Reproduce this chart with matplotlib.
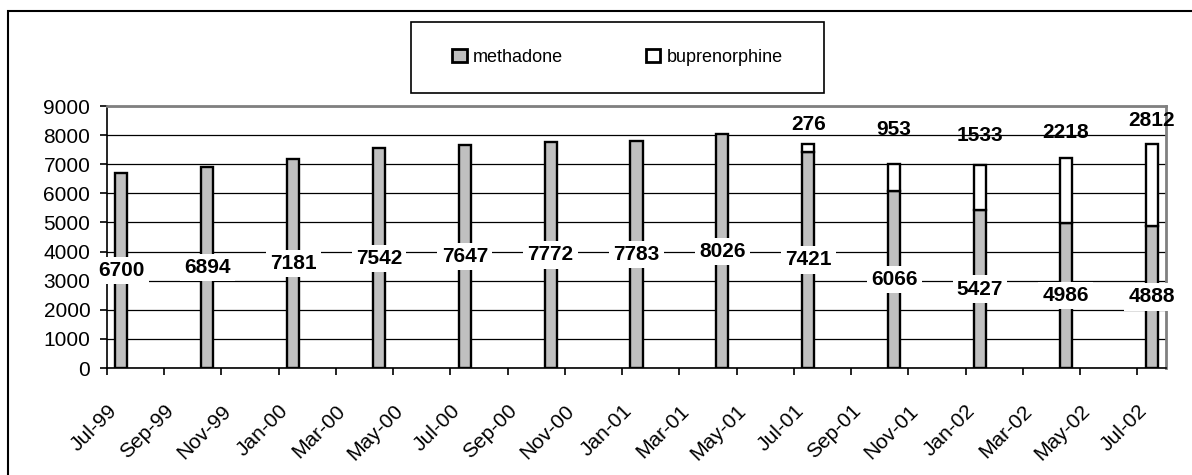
import matplotlib
matplotlib.use("Agg")
import matplotlib.pyplot as plt
from matplotlib.patches import Rectangle, Patch
import pandas as pd

# ---- data ----
quarters = ["Jul-99", "Oct-99", "Jan-00", "Apr-00", "Jul-00", "Oct-00", "Jan-01",
            "Apr-01", "Jul-01", "Oct-01", "Jan-02", "Apr-02", "Jul-02"]
methadone = [6700, 6894, 7181, 7542, 7647, 7772, 7783, 8026, 7421, 6066, 5427, 4986, 4888]
buprenorphine = [0, 0, 0, 0, 0, 0, 0, 0, 276, 953, 1533, 2218, 2812]
series_names = ["methadone", "buprenorphine"]
# label heights for buprenorphine labels (as placed in the original)
bup_label_y = [None] * 8 + [8380, 8200, 7990, 8080, 8510]

plt.rcParams["font.family"] = ["Liberation Sans", "DejaVu Sans"]

W, H = 1192, 475
fig = plt.figure(figsize=(W / 100, H / 100), dpi=100)
fig.patch.set_facecolor("white")

# axes geometry (pixels)
L, R, T, B = 107, 1166, 106, 368
ax = fig.add_axes([L / W, 1 - B / H, (R - L) / W, (B - T) / H])

start = pd.Timestamp("1999-07-01")
def month_index(s):
    d = pd.to_datetime(s, format="%b-%y")
    return (d.year - start.year) * 12 + d.month - start.month

xpos = [month_index(q) + 0.5 for q in quarters]
width = 0.42
gray = "#C0C0C0"

ax.bar(xpos, methadone, width=width, color=gray, edgecolor="black", linewidth=1.7, zorder=3)
bx = [x for x, b in zip(xpos, buprenorphine) if b > 0]
bb = [m for m, b in zip(methadone, buprenorphine) if b > 0]
bh = [b for b in buprenorphine if b > 0]
ax.bar(bx, bh, bottom=bb, width=width, color="white", edgecolor="black", linewidth=1.7, zorder=3)

# labels
for x, m in zip(xpos, methadone):
    ax.text(x, m / 2, f"{m}", ha="center", va="center", fontsize=15, fontweight="bold",
            zorder=5, bbox=dict(facecolor="white", edgecolor="none", pad=3))
for x, b, ly in zip(xpos, buprenorphine, bup_label_y):
    if b > 0:
        ax.text(x, ly, f"{b}", ha="center", va="center", fontsize=15, fontweight="bold", zorder=5)

ax.set_ylim(0, 9000)
ax.set_xlim(0, 37)
ax.set_yticks(range(0, 9001, 1000))
ax.yaxis.grid(True, color="black", linewidth=0.9)
ax.set_axisbelow(True)

nticks = list(range(0, 37, 2))
ticklabels = [(start + pd.DateOffset(months=n)).strftime("%b-%y") for n in nticks]
ax.set_xticks(nticks)
ax.set_xticklabels(ticklabels, rotation=45, ha="right", va="top", rotation_mode="anchor")
ax.tick_params(axis="x", length=5, width=1.2, pad=19, labelsize=15, color="black")
ax.tick_params(axis="y", length=5, width=1.2, pad=7, labelsize=15, color="black")

for s in ["left", "bottom"]:
    ax.spines[s].set_color("black")
    ax.spines[s].set_linewidth(1.2)
for s in ["top", "right"]:
    ax.spines[s].set_color("#808080")
    ax.spines[s].set_linewidth(2)

# outer chart frame (cropped at right/bottom)
fig.add_artist(Rectangle((8 / W, -0.1), 2, 1 - 11 / H + 0.1, transform=fig.transFigure,
                         fill=False, edgecolor="black", linewidth=1.5))

# legend box
lx0, lx1, ly0, ly1 = 411, 824, 22, 93
fig.add_artist(Rectangle((lx0 / W, 1 - ly1 / H), (lx1 - lx0) / W, (ly1 - ly0) / H,
                         transform=fig.transFigure, facecolor="white", edgecolor="black",
                         linewidth=1.2))
handles = [Patch(facecolor=gray, edgecolor="black", linewidth=2),
           Patch(facecolor="white", edgecolor="black", linewidth=2)]
fig.legend(handles, series_names, loc="center",
           bbox_to_anchor=((lx0 + lx1) / 2 / W, 1 - (ly0 + ly1) / 2 / H),
           ncol=2, frameon=False, fontsize=13, handlelength=0.8, handleheight=0.75,
           handletextpad=0.35, columnspacing=4.6)

fig.savefig("out.png", dpi=100)
